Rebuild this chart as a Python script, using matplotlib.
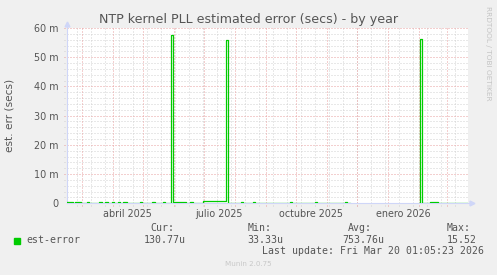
import numpy as np
import pandas as pd
import matplotlib
matplotlib.use("Agg")
import matplotlib.pyplot as plt
from matplotlib.patches import Rectangle
from matplotlib.lines import Line2D

# datos (est-error en milisegundos, escalon hasta el siguiente cambio)
change_dates = [
    '2025-02-14', '2025-02-20', '2025-02-22', '2025-02-28', '2025-03-06', '2025-03-08',
    '2025-03-18', '2025-03-21', '2025-03-24', '2025-03-27', '2025-03-31', '2025-04-02',
    '2025-04-06', '2025-04-08', '2025-04-11', '2025-04-15', '2025-04-28', '2025-04-30',
    '2025-05-10', '2025-05-13', '2025-05-21', '2025-05-23', '2025-05-29', '2025-05-31',
    '2025-06-13', '2025-06-17', '2025-06-20', '2025-06-30', '2025-07-23', '2025-07-25',
    '2025-08-07', '2025-08-09', '2025-08-19', '2025-08-21', '2025-09-25', '2025-09-27',
    '2025-10-20', '2025-10-22', '2025-11-19', '2025-11-21', '2025-11-24', '2026-02-01',
    '2026-02-02', '2026-02-04', '2026-02-12', '2026-02-20', '2026-03-21',
]
est_error_ms = [
    0.45, 0.13, 0.45, 0.13, 0.45, 0.13,
    0.45, 0.13, 0.45, 0.13, 0.45, 0.13,
    0.45, 0.13, 0.45, 0.13, 0.45, 0.13,
    0.45, 0.13, 0.45, 0.13, 57.7, 0.45,
    0.13, 0.45, 0.13, 0.7, 56.0, 0.13,
    0.45, 0.13, 0.45, 0.13, 0.45, 0.13,
    0.45, 0.13, 0.45, 0.13, np.nan, 0.13,
    56.2, 0.13, 0.45, 0.13, 0.13,
]

x_start = '2025-02-14 12:00'
x_end = '2026-03-22'
label_dates = ['2025-04-16', '2025-07-16', '2025-10-16', '2026-01-16']
label_texts = ['abril 2025', 'julio 2025', 'octubre 2025', 'enero 2026']
y_major = [0, 10, 20, 30, 40, 50, 60]

legend_headers = ['Cur:', 'Min:', 'Avg:', 'Max:']
legend_values = ['130.77u', '33.33u', '753.76u', '15.52']

# colores estilo munin
BG = '#F0F0F0'
GREEN = '#00CC00'
AXIS = '#CFD6F8'
MGRID = '#E8A0A0'
GRID = '#D2D2D2'
FONT = '#555555'

W, H = 497, 275
fig = plt.figure(figsize=(W / 100, H / 100), dpi=100)
fig.patch.set_facecolor(BG)

left, right, top, bottom = 67, 468.3, 28, 203.3
ax = fig.add_axes([left / W, 1 - bottom / H, (right - left) / W, (bottom - top) / H])
ax.set_facecolor('white')

x0 = pd.Timestamp(x_start)
x1 = pd.Timestamp(x_end)
ax.set_xlim(x0, x1)
ax.set_ylim(0, 60)

# rejilla: meses en rojo, cada dos semanas en gris
months = pd.date_range('2025-03-01', x1, freq='MS')
fortnights = pd.date_range('2025-02-24', x1, freq='14D')
ext = 3 / (bottom - top)
for d in fortnights:
    ax.axvline(d, ymin=-ext, ymax=1, color=GRID, lw=0.72, ls=(0, (1, 2)), clip_on=False, zorder=1)
for d in months:
    ax.axvline(d, ymin=-ext, ymax=1, color=MGRID, lw=0.72, ls=(0, (1, 2)), clip_on=False, zorder=1.5)
xext = 3 / (right - left)
for v in np.arange(2, 60, 2):
    if v % 10:
        ax.axhline(v, xmin=-xext, xmax=1, color=GRID, lw=0.72, ls=(0, (1, 2)), clip_on=False, zorder=1)
for v in y_major[1:]:
    ax.axhline(v, xmin=-xext, xmax=1, color=MGRID, lw=0.72, ls=(0, (1, 2)), clip_on=False, zorder=1.5)

ax.tick_params(axis='both', length=0, colors=FONT, labelsize=6.9, pad=6)
ax.set_yticks(y_major)
ax.set_yticklabels(['0' if v == 0 else f'{v} m' for v in y_major])
ax.set_xticks([pd.Timestamp(d) for d in label_dates])
ax.set_xticklabels(label_texts)
ax.tick_params(axis='x', pad=4)

for s in ax.spines.values():
    s.set_visible(False)

# ejes con flechas
ax.add_line(Line2D([0, 0], [0, 1 + 5 / (bottom - top)], transform=ax.transAxes,
                   color=AXIS, lw=0.8, clip_on=False, zorder=2))
ax.add_line(Line2D([0, 1 + 4 / (right - left)], [0, 0], transform=ax.transAxes,
                   color=AXIS, lw=0.8, clip_on=False, zorder=2))
ax.plot([0], [1 + 4 / (bottom - top)], marker='^', ms=3.5, color=AXIS, mec=AXIS,
        transform=ax.transAxes, clip_on=False, zorder=2)
ax.plot([1 + 4 / (right - left)], [0], marker='>', ms=3.5, color=AXIS, mec=AXIS,
        transform=ax.transAxes, clip_on=False, zorder=2)

dates = pd.to_datetime(change_dates)
ax.plot(dates, est_error_ms, drawstyle='steps-post', color=GREEN, lw=0.9, zorder=3)

fig.text(10 / W, 1 - 115 / H, 'est. err (secs)', rotation=90, ha='center', va='center',
         fontsize=7.6, color=FONT)
fig.text(0.5, 1 - 19 / H, 'NTP kernel PLL estimated error (secs) - by year',
         ha='center', va='center', fontsize=9.1, color=FONT)
fig.text(488 / W, 1 - 53 / H, 'RRDTOOL / TOBI OETIKER', rotation=270,
         ha='center', va='center', fontsize=5.3, color='#C4C4C4')

mono = 'DejaVu Sans Mono'
fig.add_artist(Rectangle((14 / W, 1 - 243.5 / H), 6 / W, 6 / H,
                         transform=fig.transFigure, color=GREEN))
fig.text(26 / W, 1 - 240 / H, 'est-error', family=mono, fontsize=7.1,
         color=FONT, va='center')
header_x = [150, 248, 348, 447]
value_x = [144, 247, 342, 447]
for hx, h in zip(header_x, legend_headers):
    fig.text(hx / W, 1 - 228 / H, h, family=mono, fontsize=7.1, color=FONT, va='center')
for vx, v in zip(value_x, legend_values):
    fig.text(vx / W, 1 - 240 / H, v, family=mono, fontsize=7.1, color=FONT, va='center')
fig.text(262 / W, 1 - 251.5 / H, 'Last update: Fri Mar 20 01:05:23 2026',
         family=mono, fontsize=7.1, color=FONT, va='center')
fig.text(0.5, 1 - 264 / H, 'Munin 2.0.75', ha='center', va='center',
         fontsize=5.1, color='#C8C8C8')

fig.savefig('out.png', dpi=100, facecolor=BG)
